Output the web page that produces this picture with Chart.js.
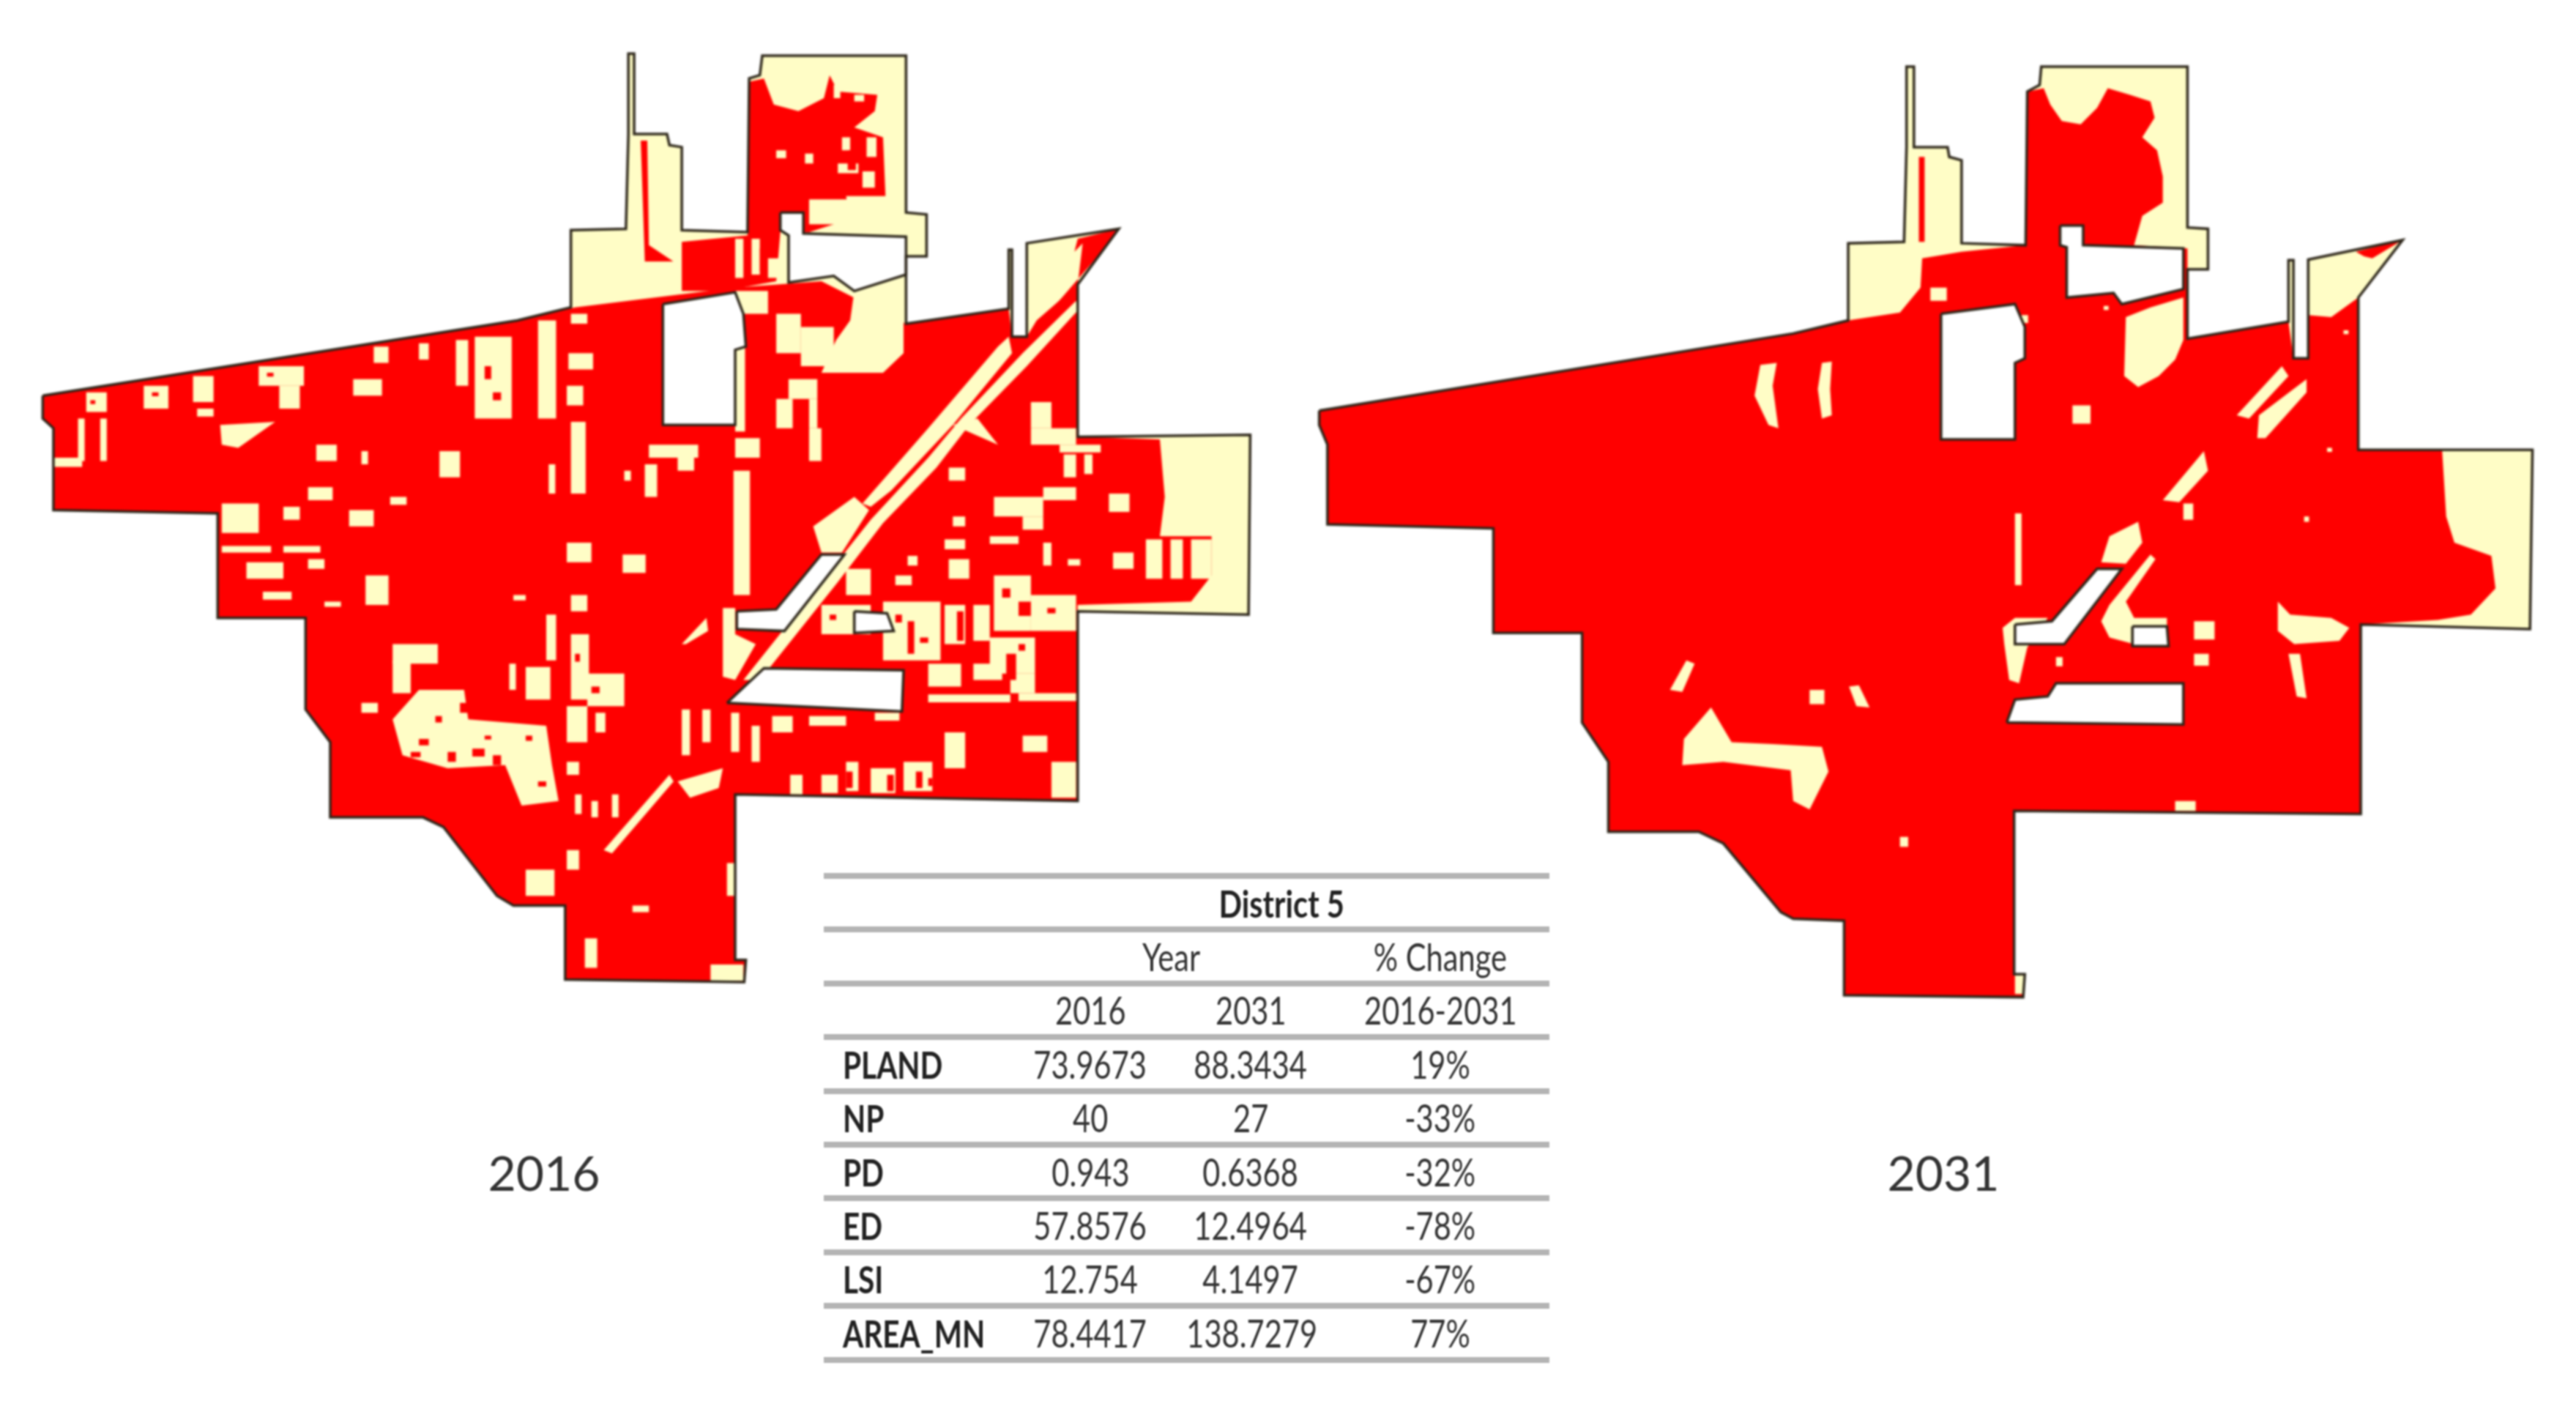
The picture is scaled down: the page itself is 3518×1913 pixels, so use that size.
<!DOCTYPE html>
<html>
<head>
<meta charset="utf-8">
<title>District 5</title>
<script src="https://cdn.jsdelivr.net/npm/chart.js@4/dist/chart.umd.min.js"></script>
<style>
  html, body { margin: 0; padding: 0; background: #fff; }
  body { position: relative; width: 3518px; height: 1913px; overflow: hidden; }
  canvas { position: absolute; top: 0; filter: blur(1.8px); }
  #map2016 { left: 0; }
  #map2031 { left: 1759px; }
  .year { position: absolute; top: 1561px; width: 300px; text-align: center; font: 66px Lato, sans-serif; color: #333; filter: blur(.8px); }
  table { position: absolute; left: 1125px; top: 1192px; width: 991px; border-collapse: collapse; table-layout: fixed;
          font: 52px Lato, sans-serif; color: #333; filter: blur(1px); }
  table { border-top: 8px solid #b4b4b4; }
  td, th { height: 65.4px; padding: 0; text-align: center; border-bottom: 8px solid #b4b4b4; font-weight: normal; }
  span { display: inline-block; transform: scaleX(.8); white-space: nowrap; }
  th.name { text-align: left; padding-left: 26px; font-weight: bold; color: #222; }
  th.name span { transform-origin: left center; transform: scaleX(.78); }
  th.head { font-weight: bold; color: #222; }
</style>
</head>
<body>
<canvas id="map2016" width="1759" height="1400"></canvas>
<canvas id="map2031" width="1759" height="1400"></canvas>
<div class="year" style="left:593px">2016</div>
<div class="year" style="left:2504px">2031</div>
<table id="metrics"></table>
<script>
// table values
const metricNames = ['PLAND', 'NP', 'PD', 'ED', 'LSI', 'AREA_MN']
const values2016 = ['73.9673', '40', '0.943', '57.8576', '12.754', '78.4417']
const values2031 = ['88.3434', '27', '0.6368', '12.4964', '4.1497', '138.7279']
const pctChange = ['19%', '-33%', '-32%', '-78%', '-67%', '77%']

// map outlines. polygons are x,y lists in map units
const outline2016 = [52,605, 630,490, 695,470, 695,352, 762,350, 765,205, 765,82, 772,82, 772,205, 812,205, 815,222, 830,225, 830,352, 910,355, 912,120, 925,115, 928,85, 1103,85, 1103,325, 1128,328, 1128,392, 1103,392, 1103,495, 1228,472, 1228,382, 1232,382, 1232,515, 1250,515, 1250,372, 1362,350, 1312,435, 1312,668, 1522,665, 1520,940, 1312,935, 1312,1225, 895,1215, 895,1468, 908,1468, 906,1502, 688,1498, 688,1385, 625,1385, 605,1370, 540,1265, 515,1250, 402,1250, 402,1135, 372,1085, 372,945, 265,945, 265,785, 65,780, 65,655, 52,640]
const outline2031 = [38,628, 615,510, 682,490, 682,372, 750,370, 753,225, 753,102, 762,102, 762,225, 803,225, 805,240, 820,245, 820,372, 898,375, 900,140, 915,130, 917,102, 1095,102, 1095,348, 1120,350, 1120,412, 1095,412, 1095,518, 1218,492, 1218,398, 1224,398, 1224,548, 1242,548, 1242,397, 1357,367, 1303,455, 1303,688, 1515,688, 1512,962, 1306,955, 1306,1245, 884,1240, 884,1490, 897,1490, 895,1525, 677,1522, 677,1408, 615,1405, 600,1395, 530,1290, 500,1272, 390,1272, 390,1165, 358,1105, 358,968, 250,968, 250,808, 48,802, 48,680, 38,650]

// developed land (red)
const red2016 = [
  [52,605, 630,490, 700,470, 895,440, 1000,430, 1103,495, 1228,472, 1232,515, 1250,515, 1262,490, 1312,435, 1312,668, 1412,672, 1418,760, 1412,820, 1475,820, 1475,880, 1450,920, 1312,925, 1312,1225, 895,1215, 895,1468, 908,1468, 906,1502, 688,1498, 688,1385, 625,1385, 605,1370, 540,1265, 515,1250, 402,1250, 402,1135, 372,1085, 372,945, 265,945, 265,785, 65,780, 65,655, 52,640],
  [912,125, 930,120, 942,160, 972,170, 1003,150, 1010,115, 1020,140, 1068,145, 1065,170, 1040,195, 1075,210, 1078,300, 1030,300, 1035,335, 985,355, 950,355, 945,430, 880,445, 830,445, 830,370, 910,360],
  [780,215, 788,215, 790,375, 820,400, 785,400],
  [1255,510, 1350,372, 1362,350, 1312,365, 1308,385, 1318,372, 1312,435]
]
const red2031 = [
  [38,628, 615,510, 682,490, 745,478, 770,440, 772,395, 820,385, 898,375, 900,140, 920,135, 928,160, 942,185, 965,190, 985,165, 998,135, 1025,145, 1050,155, 1055,180, 1040,210, 1058,230, 1065,270, 1065,310, 1040,330, 1030,375, 1095,380, 1095,518, 1218,492, 1224,548, 1242,548, 1242,482, 1270,485, 1303,455, 1303,688, 1405,688, 1410,790, 1420,830, 1465,850, 1470,900, 1440,940, 1400,948, 1306,955, 1306,1245, 884,1240, 884,1490, 897,1490, 895,1525, 677,1522, 677,1408, 615,1405, 600,1395, 530,1290, 500,1272, 390,1272, 390,1165, 358,1105, 358,968, 250,968, 250,808, 48,802, 48,680, 38,650],
  [768,240, 775,240, 775,370, 768,370],
  [1300,385, 1357,367, 1320,395, 1310,392]
]

// open land (pale yellow) inside the red: polygons
const openPoly2016 = [
  [1228,515, 1232,540, 1160,650, 1085,750, 1060,775, 1050,770, 1130,655, 1215,530],
  [990,805, 1040,760, 1058,780, 1025,845, 1000,845],
  [1310,460, 1312,475, 1250,560, 1180,650, 1140,715, 1075,800, 1020,890, 925,1040, 905,1040, 1000,890, 1060,795, 1130,700, 1170,640, 1245,540],
  [1040,445, 1100,420, 1100,540, 1075,570, 1000,570, 1018,520, 1035,490],
  [268,650, 335,645, 290,685, 270,680],
  [880,930, 895,930, 895,970, 920,985, 895,1040, 880,1035],
  [735,1300, 815,1185, 820,1195, 745,1305],
  [825,1195, 880,1175, 875,1205, 840,1220],
  [1160,650, 1190,640, 1215,680],
  [830,985, 860,945, 862,965, 835,985],
  [478,1100, 510,1055, 565,1055, 570,1100, 665,1110, 672,1170, 680,1225, 635,1232, 615,1170, 545,1175, 490,1155]
]
// smaller open patches: x,y,w,h in map units
const openBox2016 = [
  [105,600,25,30],[95,640,8,65],[122,640,8,65],[65,700,35,14],[175,590,30,35],[235,575,25,40],[240,625,20,12],[315,560,55,30],[340,590,25,35],
  [455,530,18,25],[510,525,12,25],[430,580,35,25],[555,520,15,70],[578,515,45,125],[655,490,22,150],[695,480,20,15],[692,540,30,25],[690,590,20,30],
  [695,645,18,110],[668,710,8,45],[535,690,25,40],[790,680,60,20],[825,700,20,20],[895,670,30,30],[893,720,20,190],[985,655,15,50],[785,710,15,50],
  [760,720,8,15],[385,680,25,25],[440,690,8,20],[375,745,30,20],[475,760,20,12],[345,775,20,20],[425,780,30,25],[270,770,45,45],
  [270,835,60,10],[345,835,45,10],[375,855,20,15],[300,860,45,25],[320,905,35,12],[445,880,28,45],[625,910,15,8],[690,830,30,30],[758,848,28,28],[695,910,20,25],
  [478,985,55,30],[478,1010,22,50],[640,1020,30,50],[665,940,12,70],[620,1015,8,40],[695,970,22,100],[715,1030,45,50],[690,1080,25,55],[725,1090,12,30],
  [440,1075,20,15],[690,1165,15,20],[700,1215,8,30],[720,1225,8,25],[745,1215,8,35],[830,1085,10,70],[855,1085,10,50],[890,1090,10,60],[915,1110,10,55],
  [940,1095,25,25],[985,1095,45,15],[1065,1090,30,12],[1150,1120,25,55],[1245,1125,30,25],[1030,1165,15,45],[1060,1175,30,38],[1100,1165,35,45],
  [1000,1185,20,28],[1280,1165,30,55],[962,1185,15,30],[690,1300,15,30],[640,1330,35,40],[885,1320,10,50],[770,1385,20,10],[712,1435,15,45],[865,1475,40,25],
  [1210,760,60,30],[1245,790,25,20],[1350,755,25,28],[1160,790,15,15],[1150,825,25,15],[1155,855,25,30],[1205,820,35,12],[1270,830,10,35],[1300,855,15,10],
  [1355,845,25,25],[1395,825,20,60],[1425,825,15,60],[1450,825,25,60],[1210,880,45,85],[1255,910,55,55],[1075,920,70,90],[1150,925,25,60],[1185,925,20,55],
  [1205,975,55,55],[1230,1030,30,30],[1130,1015,40,35],[1185,1015,35,25],[1130,1062,100,12],[1240,1060,70,12],[1000,925,60,45],[1030,870,30,40],
  [1255,615,25,40],[1255,655,55,25],[1290,680,50,12],[1295,695,15,35],[1320,695,10,30],[1270,745,40,20],[1155,715,20,20],[1090,880,20,15],[1105,850,12,15],
  [895,445,40,35],[945,480,30,60],[975,500,40,60],[960,580,35,30],[945,610,20,45],[985,610,10,45],[895,530,12,130],[785,400,40,50],[895,365,10,60],[915,365,10,55],[935,395,15,30],
  [945,230,12,12],[980,235,10,15],[1025,210,10,20],[1055,210,12,30],[1020,250,25,15],[1050,262,15,25],[985,305,50,38],[1015,130,8,20],[1040,145,12,10],
  [395,920,20,8]
]
// red left inside the pale blocks: the speckle of the city grid
const redBox2016 = [
  [1225,1000,12,40],[1240,920,15,22],[1105,950,8,50],[1165,935,8,45],[1030,1180,8,25],[1080,1185,8,25],[1115,1180,8,25],[925,380,8,35],[1032,230,10,30],
  [510,1130,12,10],[545,1150,10,15],[575,1145,15,12],[600,1155,10,15],[530,1095,8,10],[640,1125,8,8],[560,1075,10,15],[500,1150,12,8],[655,1195,10,8],[590,1125,8,6],
  [590,560,8,20],[600,600,10,12],[110,612,6,6],[185,600,8,6],[325,570,8,6],[1090,940,8,12],[1120,975,10,8],[1275,930,10,8],[1220,900,10,14],[1240,985,8,10],
  [1010,940,8,8],[720,1050,10,10],[700,1000,6,12],[1050,1190,6,10],[1130,1190,5,12]
]
const holes2016 = [
  [807,465, 895,447, 905,480, 908,530, 895,535, 895,650, 807,650],
  [950,325, 978,325, 978,357, 1103,362, 1103,420, 1040,445, 1015,422, 960,432, 960,360, 950,352],
  [897,935, 945,932, 1000,848, 1028,848, 955,965, 897,962],
  [1040,935, 1080,938, 1088,965, 1040,968],
  [885,1075, 930,1022, 1100,1025, 1098,1088, 1000,1082]
]

const openPoly2031 = [
  [1020,485, 1050,470, 1090,455, 1090,520, 1080,550, 1060,575, 1035,592, 1018,575],
  [575,558, 595,555, 590,590, 597,655, 585,650, 568,605],
  [650,555, 662,553, 660,595, 662,635, 650,640, 645,595],
  [1155,635, 1210,560, 1218,575, 1170,640],
  [1180,670, 1182,635, 1240,580, 1240,600, 1190,670],
  [1065,765, 1115,690, 1120,720, 1085,768],
  [990,860, 1000,820, 1035,798, 1040,830, 1020,862],
  [990,950, 1000,925, 1050,848, 1056,855, 1020,920, 1030,945, 1070,945, 1070,985, 1030,985, 1000,975],
  [872,985, 870,960, 885,945, 925,945, 900,990, 890,1045, 878,1040],
  [1205,920, 1220,940, 1270,945, 1292,960, 1280,980, 1225,985, 1205,965],
  [1218,1000, 1232,1000, 1240,1068, 1228,1065],
  [465,1055, 485,1010, 495,1015, 480,1058],
  [683,1050, 695,1048, 708,1082, 692,1080],
  [515,1082, 540,1135, 590,1138, 650,1142, 658,1180, 635,1238, 615,1225, 612,1178, 530,1165, 480,1170, 482,1130]
]
const openBox2031 = [[955,620,22,28],[782,440,20,20],[893,482,8,12],[993,468,6,6],[1285,505,6,6],[1090,770,12,25],[885,785,8,110],[1103,950,25,28],[1103,1000,18,18],[935,1005,8,14],[635,1055,18,22],[745,1280,10,15],[1080,1225,25,15],[1265,685,6,6],[1237,790,6,8],[885,1490,12,30]]
const holes2031 = [
  [795,480, 885,465, 897,500, 897,548, 885,555, 885,672, 795,672],
  [940,345, 968,345, 968,375, 1090,380, 1090,442, 1015,465, 1005,448, 948,455, 948,378, 940,375],
  [885,955, 930,950, 985,870, 1015,870, 945,985, 885,985],
  [1028,958, 1070,958, 1072,988, 1028,988],
  [875,1105, 885,1070, 925,1065, 935,1045, 1090,1045, 1090,1108]
]

const MAP_RED = '#ff0000', MAP_OPEN = '#fffdc6', MAP_EDGE = '#2b2418'

const toPoints = flat => {
  let pts = []
  for (let i = 0; i < flat.length; i += 2) pts.push({ x: flat[i], y: flat[i + 1] })
  return pts
}
const boxToPoly = b => [b[0], b[1], b[0] + b[2], b[1], b[0] + b[2], b[1] + b[3], b[0], b[1] + b[3]]

const area = (flat, color) => ({
  data: toPoints(flat), showLine: true, fill: 'shape', backgroundColor: color,
  borderWidth: 0, pointRadius: 0, tension: 0
})
const edge = flat => ({
  data: toPoints(flat.concat(flat.slice(0, 2))), showLine: true, fill: false,
  borderColor: MAP_EDGE, borderWidth: 3.5, pointRadius: 0, tension: 0
})

function createMap(id, layers) {
  let datasets = [
    area(layers.outline, MAP_OPEN),
    ...layers.red.map(p => area(p, MAP_RED)),
    ...layers.openPoly.map(p => area(p, MAP_OPEN)),
    ...layers.openBox.map(b => area(boxToPoly(b), MAP_OPEN)),
    ...layers.redBox.map(b => area(boxToPoly(b), MAP_RED)),
    ...layers.holes.map(p => area(p, '#ffffff')),
    ...layers.holes.map(p => edge(p)),
    edge(layers.outline)
  ]
  // later entries have to paint on top
  datasets.forEach((d, i) => { d.order = datasets.length - i })
  return new Chart(document.getElementById(id), {
    type: 'scatter',
    data: { datasets },
    options: {
      responsive: false,
      animation: false,
      scales: {
        x: { type: 'linear', min: 0, max: 1568, display: false },
        y: { type: 'linear', min: 0, max: 1568, reverse: true, display: false }
      },
      plugins: { legend: { display: false }, tooltip: { enabled: false } }
    }
  })
}

createMap('map2016', { outline: outline2016, red: red2016, openPoly: openPoly2016, openBox: openBox2016, redBox: redBox2016, holes: holes2016 })
createMap('map2031', { outline: outline2031, red: red2031, openPoly: openPoly2031, openBox: openBox2031, redBox: [], holes: holes2031 })

let rows = metricNames
  .map((name, i) =>
    `<tr><th class="name"><span>${name}</span></th><td><span>${values2016[i]}</span></td><td><span>${values2031[i]}</span></td><td><span>${pctChange[i]}</span></td></tr>`
  )
  .join('\n')
document.getElementById('metrics').innerHTML = `
  <colgroup><col style="width:255px"><col style="width:218px"><col style="width:220px"><col style="width:298px"></colgroup>
  <tr><th class="head" colspan="4" style="padding-left:260px"><span>District 5</span></th></tr>
  <tr><td></td><td colspan="2"><span>Year</span></td><td><span>% Change</span></td></tr>
  <tr><td></td><td><span>2016</span></td><td><span>2031</span></td><td><span>2016-2031</span></td></tr>
  ${rows}`
</script>
</body>
</html>
